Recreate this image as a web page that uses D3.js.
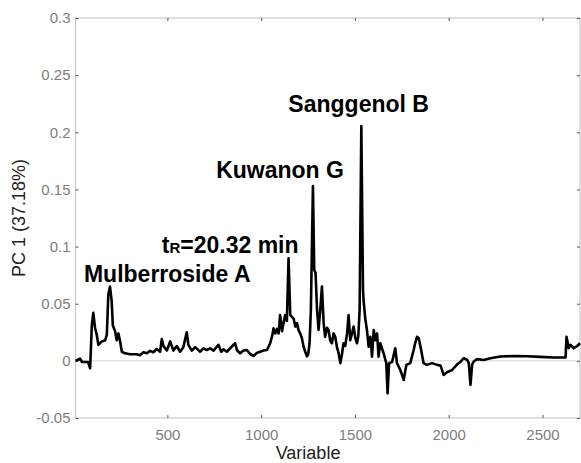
<!DOCTYPE html>
<html>
<head>
<meta charset="utf-8">
<script src="https://cdn.jsdelivr.net/npm/d3@7"></script>
<style>
  body { margin: 0; background: #fff; }
  svg { display: block; font-family: 'Liberation Sans', Arial, sans-serif; }
</style>
</head>
<body>
<svg id="chart"></svg>
<script>
// loadings of PC 1 (variable index, loading)
const variables = [
  10, 23, 34, 45, 77, 88, 97, 105, 114, 123, 132, 150, 168, 177, 185, 194, 203, 209, 221, 230,
  239, 248, 257, 274, 301, 337, 354, 372, 390, 408, 425, 443, 461, 470, 479, 497, 515, 532, 550, 568,
  585, 603, 612, 630, 648, 675, 692, 710, 728, 746, 772, 787, 799, 817, 835, 861, 872, 888, 906, 924,
  941, 959, 977, 995, 1012, 1031, 1048, 1059, 1066, 1075, 1084, 1093, 1101, 1111, 1119, 1128, 1137, 1146, 1155, 1173,
  1182, 1191, 1199, 1208, 1217, 1226, 1235, 1244, 1251, 1258, 1265, 1276, 1283, 1290, 1298, 1306, 1315, 1324, 1333, 1341,
  1351, 1359, 1368, 1377, 1386, 1395, 1404, 1413, 1422, 1431, 1439, 1448, 1458, 1466, 1475, 1484, 1493, 1502, 1511, 1518,
  1525, 1534, 1543, 1546, 1555, 1564, 1573, 1582, 1591, 1600, 1609, 1618, 1626, 1635, 1653, 1667, 1674, 1682, 1698, 1715,
  1724, 1742, 1760, 1774, 1795, 1813, 1822, 1831, 1840, 1853, 1866, 1884, 1911, 1938, 1956, 1973, 1991, 2018, 2045, 2062,
  2080, 2098, 2107, 2116, 2125, 2133, 2151, 2187, 2222, 2276, 2347, 2418, 2489, 2560, 2623, 2628, 2640, 2649, 2667, 2685,
  2700
];
const loadings = [
  0.0, 0.001, 0.002, -0.001, -0.001, -0.0065, 0.031, 0.042, 0.029, 0.023, 0.014, 0.017, 0.018, 0.023, 0.058, 0.065, 0.052, 0.031, 0.026, 0.018,
  0.024, 0.017, 0.008, 0.0066, 0.0058, 0.0058, 0.005, 0.0075, 0.0066, 0.0087, 0.0075, 0.0104, 0.008, 0.019, 0.013, 0.009, 0.017, 0.009, 0.013, 0.008,
  0.012, 0.025, 0.014, 0.009, 0.012, 0.008, 0.011, 0.0095, 0.011, 0.009, 0.014, 0.008, 0.01, 0.008, 0.011, 0.0154, 0.009, 0.0066, 0.009, 0.0095,
  0.006, 0.0043, 0.007, 0.008, 0.009, 0.0095, 0.0154, 0.022, 0.0285, 0.024, 0.028, 0.024, 0.040, 0.026, 0.033, 0.040, 0.035, 0.0898, 0.040, 0.037,
  0.030, 0.033, 0.027, 0.024, 0.02, 0.0124, 0.008, 0.004, 0.006, 0.0154, 0.0445, 0.153, 0.0795, 0.077, 0.0445, 0.027, 0.0445, 0.065, 0.033, 0.021,
  0.029, 0.027, 0.018, 0.0154, 0.024, 0.021, 0.012, 0.0066, -0.002, 0.006, 0.0154, 0.013, 0.024, 0.040, 0.018, 0.024, 0.030, 0.020, 0.0154, 0.022,
  0.0445, 0.2055, 0.062, 0.053, 0.037, 0.027, 0.0124, 0.021, 0.0037, 0.027, 0.018, 0.024, 0.0037, 0.0154, 0.0066, -0.002, -0.0284, -0.002, -0.001, 0.011,
  -0.002, -0.008, -0.0167, -0.0035, -0.002, 0.0095, 0.016, 0.021, 0.020, 0.0095, -0.002, -0.0035, -0.002, -0.0035, -0.004, -0.0123, -0.01, -0.008, -0.003, -0.001,
  0.0023, 0.001, -0.002, -0.021, -0.003, -0.0006, 0.0015, 0.0008, 0.0023, 0.0038, 0.0043, 0.004, 0.0035, 0.003, 0.003, 0.021, 0.011, 0.014, 0.011, 0.013,
  0.0154
];
const xTicks = [500, 1000, 1500, 2000, 2500];
const yTicks = [-0.05, 0, 0.05, 0.1, 0.15, 0.2, 0.25, 0.3];
const yTickLabels = ['-0.05', '0', '0.05', '0.1', '0.15', '0.2', '0.25', '0.3'];
const peakNames = ['Mulberroside A', 'tR=20.32 min', 'Kuwanon G', 'Sanggenol B'];
// where each name sits, in data units (left end of text, baseline)
const peakLabelX = [55, 470, 760, 1145];
const peakLabelY = [0.0687, 0.094, 0.160, 0.2175];

class LoadingPlot {
  constructor(_config) {
    this.config = {
      parentElement: _config.parentElement,
      containerWidth: 581,
      containerHeight: 463,
      margin: {top: 18, right: 1, bottom: 45, left: 75.5}
    };
    this.initVis();
  }

  initVis() {
    let vis = this;
    vis.width = vis.config.containerWidth - vis.config.margin.left - vis.config.margin.right;
    vis.height = vis.config.containerHeight - vis.config.margin.top - vis.config.margin.bottom;

    vis.xScale = d3.scaleLinear()
                   .domain([10, 2700])
                   .range([0, vis.width]);
    vis.yScale = d3.scaleLinear()
                   .domain([-0.05, 0.3])
                   .range([vis.height, 0]);

    vis.svg = d3.select(vis.config.parentElement)
                .attr('width', vis.config.containerWidth)
                .attr('height', vis.config.containerHeight);

    vis.chart = vis.svg.append('g')
                   .attr('transform', `translate(${vis.config.margin.left},${vis.config.margin.top})`);
  }

  renderVis() {
    let vis = this;

    // zero line
    vis.chart.append('line')
       .attr('x1', 0).attr('x2', vis.width)
       .attr('y1', vis.yScale(0)).attr('y2', vis.yScale(0))
       .attr('stroke', '#d4d4d4').attr('stroke-width', 1);

    // box
    vis.chart.append('rect')
       .attr('width', vis.width).attr('height', vis.height)
       .attr('fill', 'none').attr('stroke', '#c9c9c9').attr('stroke-width', 1.2);

    const styleAxis = g => {
      g.select('.domain').remove();
      g.selectAll('.tick line').attr('stroke', '#555').attr('stroke-width', 1);
      g.selectAll('.tick text').attr('fill', '#7d7d7d').style('font-size', '15px');
    };

    vis.chart.append('g')
       .attr('transform', `translate(0,${vis.height})`)
       .call(d3.axisBottom(vis.xScale).tickValues(xTicks).tickSize(-3).tickPadding(11).tickFormat(d => String(d)))
       .call(styleAxis);
    vis.chart.append('g')
       .call(d3.axisTop(vis.xScale).tickValues(xTicks).tickSize(-3).tickFormat(''))
       .call(styleAxis);
    vis.chart.append('g')
       .call(d3.axisLeft(vis.yScale).tickValues(yTicks).tickSize(-3).tickPadding(5)
               .tickFormat((d, i) => yTickLabels[i]))
       .call(styleAxis);
    vis.chart.append('g')
       .attr('transform', `translate(${vis.width},0)`)
       .call(d3.axisRight(vis.yScale).tickValues(yTicks).tickSize(-3).tickFormat(''))
       .call(styleAxis);

    const line = d3.line()
                   .x((d, i) => vis.xScale(variables[i]))
                   .y(d => vis.yScale(d));

    vis.chart.append('path')
       .datum(loadings)
       .attr('fill', 'none')
       .attr('stroke', '#000')
       .attr('stroke-width', 2.6)
       .attr('stroke-linejoin', 'round')
       .attr('d', line);

    // peak names
    peakNames.forEach((name, i) => {
      let t = vis.chart.append('text')
                 .attr('x', vis.xScale(peakLabelX[i]))
                 .attr('y', vis.yScale(peakLabelY[i]))
                 .style('font-size', '23px')
                 .style('font-weight', 'bold')
                 .attr('fill', '#000');
      if (name.startsWith('tR')) {
        t.append('tspan').text('t');
        t.append('tspan').style('font-size', '15px').text('R');
        t.append('tspan').text(name.slice(2));
      } else {
        t.text(name);
      }
    });

    // axis titles
    vis.svg.append('text')
       .attr('x', vis.config.margin.left + vis.xScale(1250))
       .attr('y', 459)
       .attr('text-anchor', 'middle')
       .attr('fill', '#222')
       .style('font-size', '18px')
       .text('Variable');

    vis.svg.append('text')
       .attr('transform', `translate(25,${vis.config.margin.top + vis.height / 2}) rotate(-90)`)
       .attr('text-anchor', 'middle')
       .attr('fill', '#222')
       .style('font-size', '18px')
       .text('PC 1 (37.18%)');
  }
}

const plot = new LoadingPlot({parentElement: '#chart'});
plot.renderVis();
</script>
</body>
</html>
